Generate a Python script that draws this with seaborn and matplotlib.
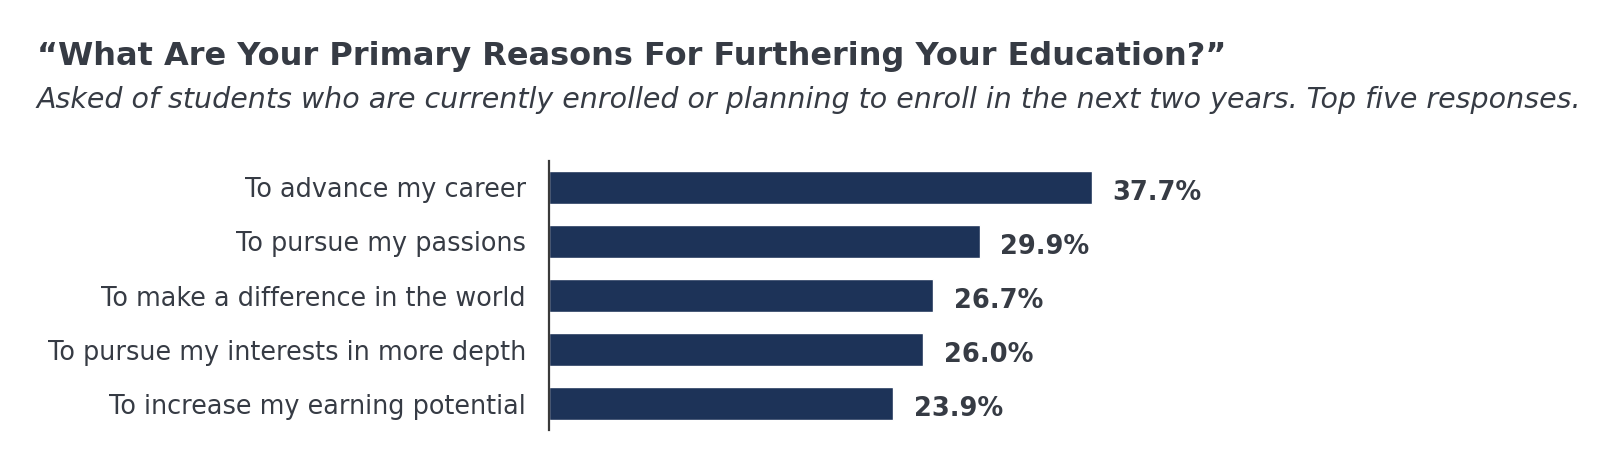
import matplotlib
matplotlib.use("Agg")
import matplotlib.pyplot as plt
import seaborn as sns
import pandas as pd

reasons = [
    "To advance my career",
    "To pursue my passions",
    "To make a difference in the world",
    "To pursue my interests in more depth",
    "To increase my earning potential",
]
shares = [37.7, 29.9, 26.7, 26.0, 23.9]

title = "\u201cWhat Are Your Primary Reasons For Furthering Your Education?\u201d"
subtitle = ("Asked of students who are currently enrolled or planning to enroll "
            "in the next two years. Top five responses.")

bar_color = "#1d3358"
text_color = "#363b44"

sns.set_theme(style="white")
plt.rcParams["font.family"] = ["DejaVu Sans"]

df = pd.DataFrame({"reason": reasons, "share": shares})

fig = plt.figure(figsize=(16.12, 4.62), dpi=100)
ax = fig.add_axes([549 / 1612, 32 / 462, 576 / 1612, 269 / 462])

sns.barplot(data=df, x="share", y="reason", color=bar_color, saturation=1,
            width=0.6, ax=ax)

ax.set_xlim(0, 40)
ax.set_ylim(4.49, -0.49)
ax.set_xlabel("")
ax.set_ylabel("")
ax.set_xticks([])
for side in ["top", "right", "bottom"]:
    ax.spines[side].set_visible(False)
ax.spines["left"].set_color("#3a3a3a")
ax.spines["left"].set_linewidth(1.6)
ax.tick_params(axis="y", length=0, pad=16.5, labelsize=18.4, labelcolor=text_color)

for i, v in enumerate(shares):
    ax.annotate(f"{v:.1f}%", xy=(v, i), xytext=(15, -2), textcoords="offset points",
                va="center_baseline", ha="left", fontsize=18.5, fontweight="bold",
                color=text_color, annotation_clip=False)

fig.text(37 / 1612, 1 - 65 / 462, title, fontsize=23, fontweight="bold",
         color=text_color, ha="left", va="baseline")
fig.text(37 / 1612, 1 - 108 / 462, subtitle, fontsize=20.5, fontstyle="italic",
         color=text_color, ha="left", va="baseline")

fig.savefig("out.png", dpi=100)
